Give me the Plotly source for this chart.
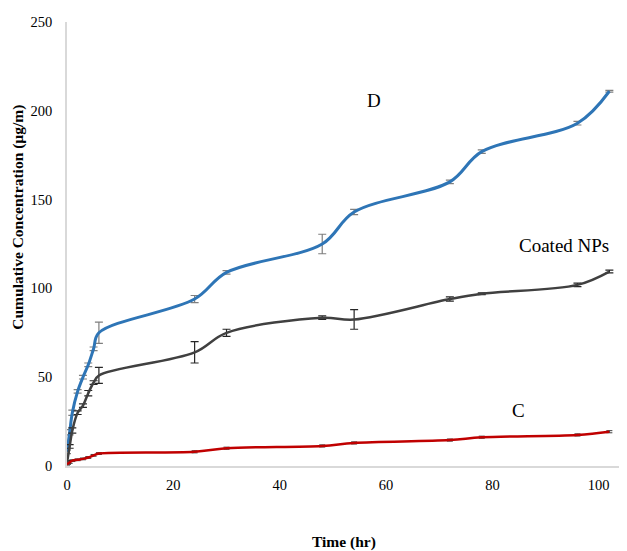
import plotly.graph_objects as go

time_hr = [0, 0.5, 1, 2, 3, 4, 5, 6, 24, 30, 48, 54, 72, 78, 96, 102]

d_values = [8, 19, 30, 42, 50, 57, 66, 75, 94, 109, 125, 143, 160, 177, 193, 211]
d_errors = [1, 1.5, 1.5, 1, 1, 1, 1, 6, 2, 1, 5.5, 1.5, 1, 1, 1, 0.5]

coated_values = [2, 11, 20, 30, 34, 41, 47, 51, 64, 75, 83.5, 82.5, 94, 97, 102, 109.5]
coated_errors = [1, 1, 1.5, 1, 1, 1.5, 1, 4.5, 6, 2, 1, 5.5, 1.2, 0.5, 1, 0.8]

c_values = [1, 2, 3, 3.5, 4, 4.8, 6, 7, 8, 10, 11.3, 13, 14.6, 16.2, 17.5, 19.3]
c_errors = [0.5, 0.5, 0.5, 0.5, 0.5, 0.5, 0.5, 0.5, 0.6, 0.6, 0.6, 0.6, 0.6, 0.6, 0.6, 0.6]

x_ticks = [0, 20, 40, 60, 80, 100]
y_ticks = [0, 50, 100, 150, 200, 250]

series_labels = ["D", "Coated NPs", "C"]
x_title = "Time (hr)"
y_title = "Cumulative Concentration (µg/m)"

fig = go.Figure()

fig.add_trace(go.Scatter(
    x=time_hr, y=d_values, mode="lines", name="D",
    line=dict(color="#2e75b6", width=3, shape="spline", smoothing=1),
    error_y=dict(type="data", array=d_errors, visible=True, color="#7f7f7f", thickness=1.2, width=4),
))
fig.add_trace(go.Scatter(
    x=time_hr, y=coated_values, mode="lines", name="Coated NPs",
    line=dict(color="#404040", width=2.5, shape="spline", smoothing=1),
    error_y=dict(type="data", array=coated_errors, visible=True, color="#262626", thickness=1.2, width=4),
))
fig.add_trace(go.Scatter(
    x=time_hr, y=c_values, mode="lines", name="C",
    line=dict(color="#c00000", width=2.5, shape="spline", smoothing=1),
    error_y=dict(type="data", array=c_errors, visible=True, color="#404040", thickness=1, width=3),
))

ann_font = dict(family="Liberation Serif", size=19, color="black")
fig.add_annotation(x=57.8, y=206, text=series_labels[0], showarrow=False, font=ann_font)
fig.add_annotation(x=93.4, y=124, text=series_labels[1], showarrow=False, font=ann_font)
fig.add_annotation(x=85, y=31.5, text=series_labels[2], showarrow=False, font=ann_font)

title_font = dict(family="Liberation Serif", size=15.5, color="black")
fig.add_annotation(xref="paper", yref="paper", x=0.5, y=-0.172, text="<b>" + x_title + "</b>",
                   showarrow=False, font=title_font, xanchor="center", yanchor="middle")
fig.add_annotation(xref="paper", yref="paper", x=-0.088, y=0.56, text="<b>" + y_title + "</b>",
                   showarrow=False, font=title_font, textangle=-90, xanchor="center", yanchor="middle")

fig.update_layout(
    width=619, height=543,
    margin=dict(l=59, r=7, t=14, b=85),
    paper_bgcolor="white", plot_bgcolor="white",
    showlegend=False,
    font=dict(family="Liberation Serif", size=14.5, color="black"),
    xaxis=dict(
        range=[0, 104], tickvals=x_ticks, showgrid=False, zeroline=False,
        showline=True, linecolor="#d9d9d9", linewidth=1.5, ticks="",
        ticklabelstandoff=5, automargin=False,
    ),
    yaxis=dict(
        range=[0, 250], tickvals=y_ticks, showgrid=False, zeroline=False,
        showline=True, linecolor="#d9d9d9", linewidth=1.5, ticks="",
        ticklabelstandoff=10, automargin=False,
    ),
)

fig.write_html("out.html")
